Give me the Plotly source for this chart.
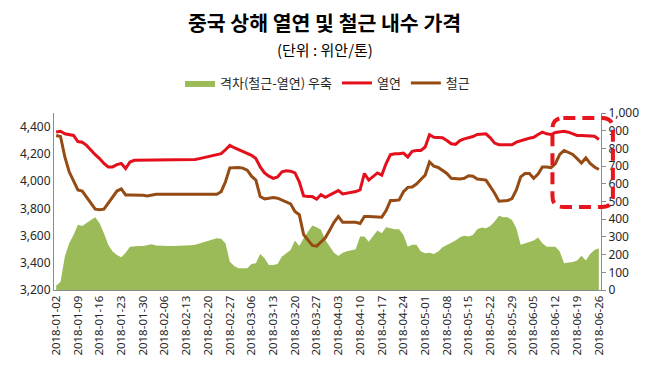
import pandas as pd
import plotly.graph_objects as go

# categories: business days 2018-01-02 .. 2018-06-26
dates = [d.strftime("%Y-%m-%d") for d in pd.bdate_range("2018-01-02", "2018-06-26")]

hot_rolled = [  # 열연 (left axis)
    4360, 4366, 4347, 4340, 4335, 4290, 4285, 4262, 4225, 4194,
    4165, 4129, 4104, 4104, 4121, 4129, 4092, 4140, 4153, 4153,
    4153, 4153, 4153, 4153, 4153, 4153, 4153, 4153, 4153, 4153,
    4153, 4153, 4158, 4165, 4172, 4179, 4189, 4196, 4201, 4230,
    4262, 4245, 4230, 4220, 4206, 4189, 4165, 4104, 4060, 4036,
    4020, 4031, 4068, 4075, 4073, 4060, 3995, 3891, 3886, 3886,
    3867, 3900, 3881, 3896, 3916, 3930, 3905, 3911, 3918, 3923,
    3935, 4056, 4007, 4031, 4060, 4044, 4129, 4194, 4201, 4201,
    4206, 4177, 4218, 4225, 4225, 4250, 4340, 4322, 4318, 4318,
    4298, 4274, 4270, 4298, 4310, 4318, 4327, 4342, 4347, 4347,
    4318, 4279, 4267, 4267, 4267, 4267, 4286, 4298, 4305, 4315,
    4322, 4342, 4359, 4347, 4342, 4357, 4361, 4366, 4359, 4347,
    4335, 4335, 4335, 4333, 4330, 4305,
]

rebar = [  # 철근 (left axis)
    4335, 4327, 4177, 4068, 4002, 3935, 3927, 3881, 3838, 3794,
    3789, 3794, 3838, 3886, 3927, 3942, 3898, 3898, 3898, 3898,
    3896, 3891, 3898, 3903, 3903, 3903, 3903, 3903, 3903, 3903,
    3903, 3903, 3903, 3903, 3903, 3903, 3903, 3903, 3922, 3995,
    4097, 4100, 4100, 4095, 4080, 4036, 4007, 3886, 3869, 3874,
    3879, 3874, 3862, 3845, 3833, 3777, 3753, 3607, 3571, 3527,
    3522, 3555, 3583, 3639, 3697, 3740, 3697, 3697, 3697, 3697,
    3688, 3740, 3740, 3740, 3740, 3735, 3784, 3857, 3857, 3862,
    3922, 3954, 3956, 3978, 4012, 4044, 4140, 4110, 4100, 4080,
    4056, 4020, 4018, 4015, 4020, 4039, 4036, 4015, 4012, 4007,
    3959, 3911, 3852, 3857, 3857, 3872, 3935, 4031, 4056, 4056,
    4020, 4051, 4104, 4104, 4099, 4129, 4196, 4225, 4213, 4196,
    4165, 4133, 4170, 4129, 4104, 4085,
]

spread = [  # 격차 (right axis)
    25, 45, 189, 264, 311, 368, 362, 381, 396, 411,
    377, 321, 255, 217, 198, 185, 211, 245, 249, 249,
    249, 255, 259, 251, 249, 249, 249, 249, 249, 249,
    249, 253, 256, 264, 272, 277, 285, 292, 289, 264,
    160, 136, 123, 123, 123, 147, 151, 204, 179, 141,
    141, 147, 189, 207, 226, 279, 249, 292, 328, 365,
    354, 340, 283, 245, 211, 192, 211, 219, 226, 230,
    302, 302, 273, 306, 336, 321, 355, 349, 343, 343,
    311, 245, 255, 255, 217, 207, 211, 204, 217, 241,
    255, 268, 279, 298, 306, 302, 311, 343, 353, 349,
    362, 387, 419, 411, 411, 396, 349, 255, 264, 272,
    279, 296, 264, 245, 245, 245, 217, 151, 155, 158,
    166, 194, 166, 204, 226, 236,
]

tick_labels = dates[::5]
left_ticks = [3200, 3400, 3600, 3800, 4000, 4200, 4400]
right_ticks = [0, 100, 200, 300, 400, 500, 600, 700, 800, 900, 1000]

FONT = "Noto Sans CJK KR"
TICKFONT = "Noto Sans"
RED = "#E3101C"
BROWN = "#954B14"
GREEN = "#9BBB59"
AXIS = "#8C8C8C"

fig = go.Figure()
fig.add_trace(go.Scatter(
    x=dates, y=spread, name="격차(철근-열연) 우축", mode="lines",
    fill="tozeroy", fillcolor=GREEN, line=dict(width=0, color=GREEN),
    yaxis="y",
))
fig.add_trace(go.Scatter(
    x=dates, y=hot_rolled, name="열연", mode="lines",
    line=dict(color=RED, width=3), yaxis="y2",
))
fig.add_trace(go.Scatter(
    x=dates, y=rebar, name="철근", mode="lines",
    line=dict(color=BROWN, width=3), yaxis="y2",
))

# The page body has an 8px margin; positions below are page pixels.
OFF = 8
FW, FH = 647, 370
L, R, T, B = 49, 601, 113, 290          # plot area in page pixels
W, H = R - L, B - T


def px(x):
    return (x - L) / W


def py(y):
    return (B - y) / H


# dashed rounded rectangle highlight
x0, x1, y0, y1 = px(552), px(613), py(207), py(118)
rx, ry = 11 / W, 11 / H
path = (
    f"M {x0+rx},{y1} L {x1-rx},{y1} Q {x1},{y1} {x1},{y1-ry} "
    f"L {x1},{y0+ry} Q {x1},{y0} {x1-rx},{y0} "
    f"L {x0+rx},{y0} Q {x0},{y0} {x0},{y0+ry} "
    f"L {x0},{y1-ry} Q {x0},{y1} {x0+rx},{y1} Z"
)

fig.update_layout(
    width=FW, height=FH,
    margin=dict(l=L - OFF, r=FW - (R - OFF), t=T - OFF, b=FH - (B - OFF)),
    paper_bgcolor="white", plot_bgcolor="white",
    font=dict(family=FONT, size=12, color="#262626"),
    showlegend=True,
    legend=dict(
        orientation="h", x=px(325), xanchor="center", y=py(83), yanchor="middle",
        font=dict(family=FONT, size=13, color="#262626"),
        itemwidth=30, tracegroupgap=0, bgcolor="rgba(0,0,0,0)",
    ),
    xaxis=dict(
        type="category", range=[-0.5, len(dates) - 0.5],
        tickmode="array", tickvals=tick_labels, ticktext=tick_labels,
        tickangle=-90, showgrid=False, showline=True, linecolor=AXIS,
        linewidth=1, ticks="", tickfont=dict(family=TICKFONT, size=11.5),
    ),
    yaxis=dict(
        side="right", range=[0, 1000], tickvals=right_ticks,
        tickformat=",", showgrid=False, showline=True, linecolor=AXIS,
        linewidth=1, ticks="outside", ticklen=4, tickcolor=AXIS,
        zeroline=False, tickfont=dict(family=TICKFONT, size=12),
    ),
    yaxis2=dict(
        side="left", overlaying="y", range=[3200, 4500], tickvals=left_ticks,
        tickformat=",", showgrid=False, showline=True, linecolor=AXIS,
        linewidth=1, ticks="", zeroline=False,
        tickfont=dict(family=TICKFONT, size=12),
    ),
    annotations=[
        dict(
            text="<b>중국 상해 열연 및 철근 내수 가격</b>",
            xref="paper", yref="paper", x=px(322), y=py(21.5),
            xanchor="center", yanchor="middle", showarrow=False,
            font=dict(family=FONT, size=20.5, color="#000000"),
        ),
        dict(
            text="(단위 : 위안/톤)", xref="paper", yref="paper",
            x=px(322), y=py(49.5), xanchor="center", yanchor="middle",
            showarrow=False, font=dict(family=FONT, size=15, color="#000000"),
        ),
    ],
    shapes=[dict(
        type="path", path=path, xref="paper", yref="paper",
        line=dict(color="#E8141E", width=4, dash="12px,7px"),
        fillcolor="rgba(0,0,0,0)",
    )],
)

fig.write_html("out.html")
